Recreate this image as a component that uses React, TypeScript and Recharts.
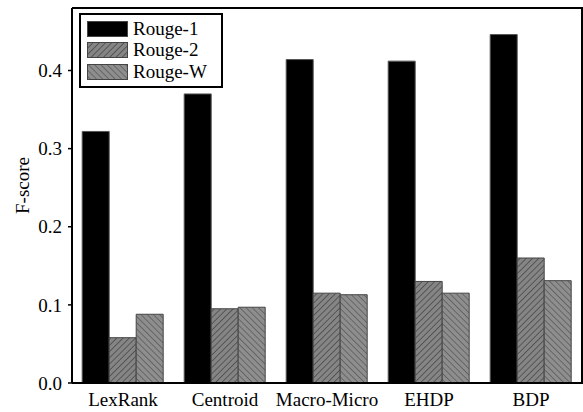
import { BarChart, Bar, XAxis, YAxis, Legend } from 'recharts'

const methods = ['LexRank', 'Centroid', 'Macro-Micro', 'EHDP', 'BDP']
const rouge1 = [0.322, 0.370, 0.414, 0.412, 0.446]
const rouge2 = [0.058, 0.095, 0.115, 0.130, 0.160]
const rougeW = [0.088, 0.097, 0.113, 0.115, 0.131]
const yTicks = [0, 0.1, 0.2, 0.3, 0.4]

const data = methods.map((m, i) => ({
  name: m,
  r1: rouge1[i],
  r2: rouge2[i],
  rw: rougeW[i],
}))

const series = [
  { key: 'r1', name: 'Rouge-1', fill: '#000000' },
  { key: 'r2', name: 'Rouge-2', fill: 'url(#hatchR2)' },
  { key: 'rw', name: 'Rouge-W', fill: 'url(#hatchRW)' },
]

const font = '"Liberation Serif", "Times New Roman", serif'

function LegendBox() {
  return (
    <div style={{
      border: '2px solid #000', background: '#fff', width: 140, height: 68,
      boxSizing: 'content-box', fontFamily: font, fontSize: 19, color: '#000',
      paddingTop: 3,
    }}>
      {series.map(s => (
        <div key={s.key} style={{ display: 'flex', alignItems: 'center', height: 21.5 }}>
          <svg width={41} height={16} style={{ marginLeft: 6, marginRight: 5 }}>
            <rect x={0.5} y={0.5} width={40} height={15} fill={s.fill} stroke="#444" strokeWidth={1} />
          </svg>
          <span style={{ lineHeight: '20px' }}>{s.name}</span>
        </div>
      ))}
    </div>
  )
}

export default function App() {
  return (
    <div style={{ width: 583, height: 412, background: '#fff', position: 'relative' }}>
      <style>{'body{margin:0}'}</style>
      <BarChart width={583} height={412} data={data}
        margin={{ top: 8, right: 1, left: 0, bottom: 0 }}
        barCategoryGap="10%" barGap={0}>
        <defs>
          <pattern id="hatchR2" patternUnits="userSpaceOnUse" width={4.4} height={4.4} patternTransform="rotate(45)">
            <rect width={4.4} height={4.4} fill="#858585" />
            <line x1={0} y1={0} x2={0} y2={4.4} stroke="#4a4a4a" strokeWidth={1.6} />
          </pattern>
          <pattern id="hatchRW" patternUnits="userSpaceOnUse" width={4.4} height={4.4} patternTransform="rotate(-45)">
            <rect width={4.4} height={4.4} fill="#8e8e8e" />
            <line x1={0} y1={0} x2={0} y2={4.4} stroke="#555555" strokeWidth={1.4} />
          </pattern>
        </defs>
        <XAxis dataKey="name" height={29} tickLine={false} tickSize={8}
          axisLine={{ stroke: '#000', strokeWidth: 2 }}
          tick={{ fill: '#000', fontSize: 19, fontFamily: font }} interval={0} />
        <YAxis width={72} domain={[0, 0.48]} ticks={yTicks} tickSize={4} tickMargin={6}
          tickFormatter={(v: number) => v.toFixed(1)}
          axisLine={{ stroke: '#000', strokeWidth: 2 }} tickLine={{ stroke: '#000', strokeWidth: 1.5 }}
          tick={{ fill: '#000', fontSize: 19, fontFamily: font }}
          label={{ value: 'F-score', angle: -90, position: 'insideLeft', offset: 22, dy: -10,
            fill: '#000', fontSize: 19, fontFamily: font,
            style: { fill: '#000', textAnchor: 'middle' } }} />
        <Legend layout="horizontal" verticalAlign="middle" align="center"
          wrapperStyle={{ top: 13, left: 79, width: 'auto' }}
          content={() => <LegendBox />} />
        {series.map(s => (
          <Bar key={s.key} dataKey={s.key} name={s.name} fill={s.fill}
            stroke={s.key === 'r1' ? '#555' : '#444'} strokeWidth={1}
            isAnimationActive={false} />
        ))}
      </BarChart>
      <div style={{
        position: 'absolute', left: 72, top: 7, width: 509, height: 375,
        borderTop: '2px solid #000', borderRight: '2px solid #000', pointerEvents: 'none',
      }} />
    </div>
  )
}
